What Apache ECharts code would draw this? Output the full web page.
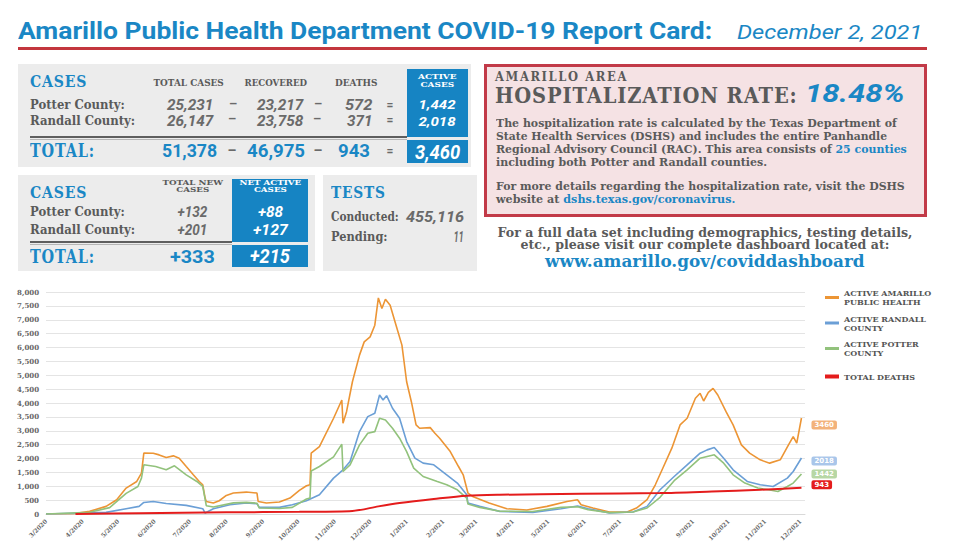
<!DOCTYPE html>
<html><head><meta charset="utf-8">
<script src="https://cdn.jsdelivr.net/npm/echarts@6/dist/echarts.min.js"></script>
<style>
html,body{margin:0;padding:0;background:#fff;}
#wrap{position:relative;width:960px;height:557px;overflow:hidden;background:#fff;}
#chart{position:absolute;left:0;top:0;width:960px;height:557px;}
.t{position:absolute;white-space:pre;}
.bx{position:absolute;box-sizing:border-box;}
</style><style id="dyn"></style></head><body>
<div id="wrap"><div id="chart"></div><div id="ov"></div></div>
<script>
// ---------- chart data ----------
const seriesNames = ['ACTIVE AMARILLO PUBLIC HEALTH','ACTIVE RANDALL COUNTY','ACTIVE POTTER COUNTY','TOTAL DEATHS'];
const legendLabels = ['ACTIVE AMARILLO\nPUBLIC HEALTH','ACTIVE RANDALL\nCOUNTY','ACTIVE POTTER\nCOUNTY','TOTAL DEATHS'];
const yTicks = [0,500,1000,1500,2000,2500,3000,3500,4000,4500,5000,5500,6000,6500,7000,7500,8000];

const amarilloActive = [['2020-03-01',0],['2020-03-24',10],['2020-04-07',95],['2020-04-21',275],['2020-04-30',515],['2020-05-08',934],['2020-05-17',1172],['2020-05-21',1473],['2020-05-23',2192],['2020-05-31',2190],['2020-06-05',2130],['2020-06-11',2035],['2020-06-17',2095],['2020-06-22',2012],['2020-06-28',1711],['2020-07-04',1412],['2020-07-09',1172],['2020-07-12',1053],['2020-07-14',575],['2020-07-15',453],['2020-07-21',395],['2020-07-26',478],['2020-08-01',669],['2020-08-07',755],['2020-08-18',790],['2020-08-27',755],['2020-08-28',453],['2020-09-04',395],['2020-09-15',431],['2020-09-24',575],['2020-10-02',850],['2020-10-08',1017],['2020-10-11',1053],['2020-10-12',2192],['2020-10-19',2430],['2020-10-31',3450],['2020-11-07',4108],['2020-11-08',3270],['2020-11-11',3687],['2020-11-16',4766],['2020-11-22',5725],['2020-11-26',6203],['2020-12-01',6383],['2020-12-05',6804],['2020-12-08',7785],['2020-12-11',7404],['2020-12-14',7738],['2020-12-18',7522],['2020-12-23',6804],['2020-12-28',6085],['2021-01-01',4766],['2021-01-05',4047],['2021-01-09',3210],['2021-01-12',3091],['2021-01-21',3113],['2021-01-25',2911],['2021-01-29',2732],['2021-02-07',2250],['2021-02-14',1711],['2021-02-18',1412],['2021-02-22',755],['2021-02-26',633],['2021-03-12',395],['2021-03-27',190],['2021-04-13',144],['2021-04-30',275],['2021-05-17',453],['2021-05-26',514],['2021-05-29',334],['2021-06-08',216],['2021-06-22',72],['2021-07-07',72],['2021-07-15',216],['2021-07-24',514],['2021-07-31',1053],['2021-08-07',1711],['2021-08-14',2372],['2021-08-21',3210],['2021-08-27',3450],['2021-09-03',4169],['2021-09-07',4349],['2021-09-10',4072],['2021-09-14',4385],['2021-09-18',4528],['2021-09-22',4288],['2021-09-29',3687],['2021-10-05',3210],['2021-10-12',2491],['2021-10-19',2192],['2021-10-28',1951],['2021-11-05',1833],['2021-11-14',1951],['2021-11-21',2491],['2021-11-25',2789],['2021-11-28',2552],['2021-12-02',3460]];

const randallActive = [['2020-03-01',0],['2020-04-07',40],['2020-04-21',58],['2020-05-08',190],['2020-05-19',275],['2020-05-23',417],['2020-05-31',453],['2020-06-11',381],['2020-06-28',310],['2020-07-12',190],['2020-07-14',36],['2020-07-21',190],['2020-08-04',334],['2020-08-18',395],['2020-08-27',370],['2020-08-29',238],['2020-09-15',238],['2020-09-26',334],['2020-10-08',478],['2020-10-19',694],['2020-10-31',1293],['2020-11-08',1592],['2020-11-14',1891],['2020-11-22',2969],['2020-11-29',3508],['2020-12-05',3630],['2020-12-09',4288],['2020-12-12',4108],['2020-12-15',4263],['2020-12-20',3810],['2020-12-26',3450],['2021-01-01',2610],['2021-01-08',2012],['2021-01-15',1833],['2021-01-24',1772],['2021-02-04',1412],['2021-02-13',1114],['2021-02-21',694],['2021-02-22',395],['2021-03-04',275],['2021-03-21',95],['2021-04-18',58],['2021-05-12',190],['2021-05-26',290],['2021-06-04',190],['2021-06-22',36],['2021-07-12',72],['2021-07-24',275],['2021-08-04',873],['2021-08-16',1352],['2021-08-27',1772],['2021-09-07',2192],['2021-09-13',2311],['2021-09-19',2394],['2021-09-27',2012],['2021-10-05',1592],['2021-10-17',1172],['2021-10-28',1053],['2021-11-08',992],['2021-11-20',1293],['2021-11-25',1531],['2021-12-02',2018]];

const potterActive = [['2020-03-01',0],['2020-04-07',60],['2020-04-24',230],['2020-05-08',745],['2020-05-18',992],['2020-05-21',1293],['2020-05-23',1772],['2020-06-02',1711],['2020-06-11',1592],['2020-06-18',1736],['2020-06-28',1412],['2020-07-07',1172],['2020-07-12',992],['2020-07-14',539],['2020-07-15',300],['2020-07-21',250],['2020-08-07',400],['2020-08-18',420],['2020-08-27',390],['2020-08-29',215],['2020-09-15',200],['2020-09-26',240],['2020-10-08',540],['2020-10-11',575],['2020-10-12',1550],['2020-10-19',1711],['2020-10-31',2060],['2020-11-07',2516],['2020-11-08',1531],['2020-11-14',1772],['2020-11-22',2491],['2020-11-29',2911],['2020-12-05',2969],['2020-12-09',3450],['2020-12-14',3389],['2020-12-20',3091],['2020-12-26',2732],['2021-01-01',2250],['2021-01-07',1653],['2021-01-15',1352],['2021-01-27',1172],['2021-02-04',1053],['2021-02-13',873],['2021-02-21',575],['2021-02-22',359],['2021-03-04',238],['2021-03-21',100],['2021-04-18',90],['2021-05-12',238],['2021-05-26',260],['2021-06-04',155],['2021-06-22',50],['2021-07-12',72],['2021-07-24',216],['2021-08-04',600],['2021-08-16',1200],['2021-08-27',1592],['2021-09-07',2012],['2021-09-13',2072],['2021-09-19',2132],['2021-09-27',1833],['2021-10-05',1412],['2021-10-15',1114],['2021-10-26',934],['2021-11-04',873],['2021-11-12',812],['2021-11-20',992],['2021-11-25',1114],['2021-12-02',1442]];

const totalDeaths = [['2020-03-26',2],['2020-05-19',30],['2020-08-01',60],['2020-10-02',80],['2020-11-16',110],['2020-12-08',275],['2020-12-26',395],['2021-01-24',539],['2021-02-21',658],['2021-03-21',694],['2021-05-29',730],['2021-08-04',755],['2021-09-17',812],['2021-10-28',873],['2021-12-02',943]];

// ---------- infographic overlay ----------
const BLUE='#1a87c5', GRAY='#5a5a5a', FILL='#1684c3', LIGHT='#ececec';
const SLAB="'DejaVu Serif',serif", SANS="Roboto,'Open Sans',sans-serif";
const ov=document.getElementById('ov');
function box(x,y,w,h,style){const d=document.createElement('div');d.className='bx';d.style.cssText=`left:${x}px;top:${y}px;width:${w}px;height:${h}px;`+style;ov.appendChild(d);}
function T(html,x,cy,fs,o={}){
  const d=document.createElement('div');d.className='t';d.innerHTML=html;
  d.style.fontFamily = o.f==='sans' ? SANS : SLAB;
  d.style.fontSize=fs+'px'; d.style.fontWeight=o.b||'bold'; d.style.fontStyle=o.i?'italic':'normal';
  d.style.color=o.c||GRAY; if(o.ls) d.style.letterSpacing=o.ls+'px';
  const lh=o.lh||fs*0.75; d.style.lineHeight=lh+'px';
  const a=o.a||'l';
  d.style.textAlign = a==='c'?'center':(a==='r'?'right':'left');
  d.style.top=(cy-lh/2)+'px';
  ov.appendChild(d);
  const w=d.offsetWidth; const s=o.w? o.w/w : 1;
  if(a==='l'){d.style.left=x+'px';d.style.transformOrigin='left center';}
  else if(a==='r'){d.style.left=(x-w)+'px';d.style.transformOrigin='right center';}
  else {d.style.left=(x-w/2)+'px';d.style.transformOrigin='center center';}
  d.style.transform=`scaleX(${s})`;
  return d;
}
function measure(text,fs,ls){const m=document.createElement('div');m.className='t';m.style.cssText=`font-family:${SLAB};font-weight:bold;font-size:${fs}px;letter-spacing:${ls}px;`;m.textContent=text;ov.appendChild(m);const w=m.offsetWidth;m.remove();return w;}

// title
T('Amarillo Public Health Department COVID-19 Report Card:',18,31,24,{f:'sans',c:BLUE,w:694});
T('December 2, 2021',737,32,20,{f:'sans',c:BLUE,i:true,b:'normal',w:185});
box(18,47,909,3,'background:#c3363e;');

// box 1
box(18,64,453,103,`background:${LIGHT};`);
T('CASES',30,81,17,{c:BLUE,w:57,ls:1});
T('TOTAL CASES',188,83,8.5,{a:'c',w:70});
T('RECOVERED',276,83,8.5,{a:'c',w:63});
T('DEATHS',356,83,8.5,{a:'c',w:42});
box(407,69,61,68,`background:${FILL};`);
T('ACTIVE\nCASES',437,76,8,{a:'c',c:'#fff',w:39,lh:8.3});
T('Potter County:',30,105,12,{w:95});
T('Randall County:',30,121,12,{w:105});
const ital={f:'sans',i:true,c:'#6a6a6a',a:'r'};
T('25,231',213,105,14,Object.assign({w:46},ital));
T('23,217',303,105,14,Object.assign({w:46},ital));
T('572',372,105,14,Object.assign({w:27},ital));
T('26,147',213,121,14,Object.assign({w:46},ital));
T('23,758',303,121,14,Object.assign({w:46},ital));
T('371',372,121,14,Object.assign({w:25},ital));
[[233,104],[318,104],[232,119],[317,119]].forEach(p=>T('–',p[0],p[1],13,{f:'sans',a:'c',c:'#6a6a6a'}));
T('=',390,105,12,{f:'sans',a:'c',c:'#6a6a6a'});
T('=',390,120,12,{f:'sans',a:'c',c:'#6a6a6a'});
T('1,442',437,105,13,{f:'sans',i:true,c:'#fff',a:'c',w:37});
T('2,018',437,122,13,{f:'sans',i:true,c:'#fff',a:'c',w:37});
box(30,136,377,2,'background:#5e5e5e;');
box(30,139,377,1,'background:#b5b5b5;');
box(407,140,61,23,`background:${FILL};`);
T('TOTAL:',30,151,18,{c:BLUE,w:65,ls:1});
T('51,378',217,151,18,{f:'sans',c:BLUE,a:'r',w:55});
T('46,975',305,151,18,{f:'sans',c:BLUE,a:'r',w:58});
T('943',370,151,18,{f:'sans',c:BLUE,a:'r',w:32});
T('–',232,150,14,{f:'sans',a:'c',c:'#6a6a6a'});
T('–',318,150,14,{f:'sans',a:'c',c:'#6a6a6a'});
T('=',390,151,12,{f:'sans',a:'c',c:'#6a6a6a'});
T('3,460',437,152,20,{f:'sans',i:true,c:'#fff',a:'c',w:45});

// box 2
box(18,175,297,96,`background:${LIGHT};`);
T('CASES',30,192,17,{c:BLUE,w:57,ls:1});
T('TOTAL NEW\nCASES',192,182.5,8,{a:'c',w:60,lh:7.5});
box(232,179,76,63,`background:${FILL};`);
T('NET ACTIVE\nCASES',270,182.5,8,{a:'c',c:'#fff',w:62,lh:7.5});
T('Potter County:',30,212,12,{w:95});
T('Randall County:',30,230,12,{w:105});
T('+132',192,212,14,{f:'sans',i:true,c:'#6a6a6a',a:'c',w:30});
T('+201',192,230,14,{f:'sans',i:true,c:'#6a6a6a',a:'c',w:30});
T('+88',270,212,14,{f:'sans',i:true,c:'#fff',a:'c',w:25});
T('+127',270,230,14,{f:'sans',i:true,c:'#fff',a:'c',w:35});
box(30,241,202,2,'background:#5e5e5e;');
box(30,244,202,1,'background:#b5b5b5;');
box(232,245,76,22,`background:${FILL};`);
T('TOTAL:',30,257,18,{c:BLUE,w:65,ls:1});
T('+333',192,257,18,{f:'sans',c:BLUE,a:'c',w:45});
T('+215',270,256,20,{f:'sans',i:true,c:'#fff',a:'c',w:40});

// tests
box(323,175,154,96,`background:${LIGHT};`);
T('TESTS',331,192,17,{c:BLUE,w:55,ls:1});
T('Conducted:',331,217,12,{w:68});
T('455,116',464,217,14,{f:'sans',i:true,c:'#6a6a6a',a:'r',w:58});
T('Pending:',331,237,12,{w:57});
T('11',464,237,14,{f:'sans',i:true,c:'#6a6a6a',a:'r',w:10});

// hospitalization box
box(484,64,443,153,'background:#f5e2e4;border:3px solid #c23a48;');
(function(){
  const w1=measure('AMARILLO AREA',13,0.5), w2=measure('HOSPITALIZATION RATE:',22,1);
  const s=303/w2; const ls1=0.5+((133/s)-w1)/13;
  document.getElementById('dyn').textContent=`#hosp::first-line{font-size:13px;letter-spacing:${ls1}px;}`;
  const d=document.createElement('div');d.id='hosp';d.className='t';
  d.style.cssText=`font-family:${SLAB};font-weight:bold;font-size:22px;letter-spacing:1px;line-height:18px;color:${GRAY};left:495px;top:68.4px;transform-origin:left center;transform:scaleX(${s});`;
  d.textContent='AMARILLO AREA\nHOSPITALIZATION RATE:';
  ov.appendChild(d);
})();
T('18.48%',805,94,25,{f:'sans',i:true,c:BLUE,w:100});
const para=[
 ['The hospitalization rate is calculated by the Texas Department of',124,401],
 ['State Health Services (DSHS) and includes the entire Panhandle',137,391],
 [`Regional Advisory Council (RAC). This area consists of <span style="color:${BLUE}">25 counties</span>`,150,411],
 ['including both Potter and Randall counties.',163,271],
 ['For more details regarding the hospitalization rate, visit the DSHS',187,409],
 [`website at <span style="color:${BLUE}">dshs.texas.gov/coronavirus.</span>`,200,239]
];
para.forEach(p=>T(p[0],496,p[1],11,{w:p[2]}));
T('For a full data set including demographics, testing details,\netc., please visit our complete dashboard located at:',705,233,12.5,{a:'c',w:415,lh:12});
T('www.amarillo.gov/coviddashboard',705,262,16,{a:'c',c:BLUE,w:320});

// ---------- chart ----------
const chart=echarts.init(document.getElementById('chart'),null,{renderer:'svg'});
const colors=['#ec9535','#6b9fd6','#92c27c','#e41c1c'];
const labelBg=['#f3b27a','#a9c6ea','#b7d7a4','#e41c1c'];
const labelOff=[[0,7],[0,3],[0,0],[0,-3]];
const datasets=[amarilloActive,randallActive,potterActive,totalDeaths];
const lmap={}; seriesNames.forEach((n,i)=>lmap[n]=legendLabels[i]);
const legendText={fontSize:8,fontWeight:'bold',fontFamily:'DejaVu Serif',color:'#555',lineHeight:9};
chart.setOption({
  animation:false,
  grid:{left:46,right:155,top:292,bottom:43,containLabel:false},
  legend:[
    {data:seriesNames.slice(0,3),orient:'vertical',left:820,top:283.5,itemWidth:14,itemHeight:3,itemGap:7.5,icon:'rect',textStyle:legendText,formatter:n=>lmap[n]},
    {data:seriesNames.slice(3),orient:'vertical',left:820,top:367,itemWidth:14,itemHeight:4,icon:'rect',textStyle:legendText,formatter:n=>lmap[n]}
  ],
  xAxis:{type:'time',min:'2020-03-01',max:'2021-12-05',splitNumber:21,
    axisLine:{show:true,lineStyle:{color:'#d9d9d9'}},axisTick:{show:false},splitLine:{show:false},
    axisLabel:{rotate:45,fontSize:6,fontWeight:'bold',fontFamily:'DejaVu Serif',color:'#666',margin:6,showMinLabel:true,hideOverlap:false,
      formatter:v=>{const d=new Date(v);return (d.getMonth()+1)+'/'+d.getFullYear();}}},
  yAxis:{type:'value',min:yTicks[0],max:yTicks[yTicks.length-1],interval:yTicks[1]-yTicks[0],
    axisLine:{show:false},axisTick:{show:false},
    splitLine:{lineStyle:{color:'#e4e4e4',width:1}},
    axisLabel:{fontSize:7,fontWeight:'bold',fontFamily:'DejaVu Serif',color:'#666',margin:7,
      formatter:v=>v.toLocaleString('en-US')}},
  series:datasets.map((d,i)=>({
    name:seriesNames[i],type:'line',data:d,showSymbol:false,symbol:'none',
    smooth:i===3?0.3:false,z:i===3?5:3,
    lineStyle:{width:i===3?2:1.6,color:colors[i]},itemStyle:{color:colors[i]},
    endLabel:{show:true,formatter:p=>String(p.value[1]),color:'#fff',backgroundColor:labelBg[i],
      padding:[1,3],fontSize:7,fontWeight:'bold',fontFamily:'DejaVu Sans',borderRadius:2,distance:10,offset:labelOff[i]}
  }))
});
</script>
</body></html>
